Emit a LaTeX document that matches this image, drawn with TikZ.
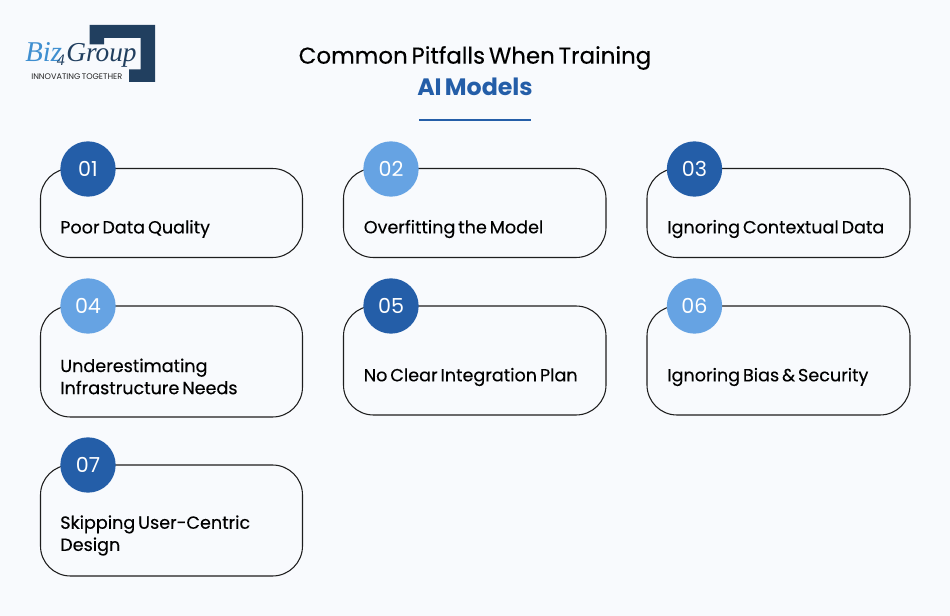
\documentclass[tikz,border=0pt]{standalone}
\usepackage{fontspec}
\setmainfont{Poppins}[WordSpace=0.62]
\newfontfamily\medfont{Poppins}[WordSpace=0.62,FakeBold=0.25]
\newfontfamily\logofont{Liberation Serif}
\definecolor{pagebg}{HTML}{F8FAFD}
\definecolor{darkblue}{HTML}{245EA8}
\definecolor{lightblue}{HTML}{66A3E3}
\definecolor{logonavy}{HTML}{213F5F}
\definecolor{logosky}{HTML}{3F8FD0}
\definecolor{inkline}{HTML}{1E1E1E}
\tikzset{
  card/.style={draw=inkline, line width=0.8pt, fill=pagebg, rounded corners=22.5pt, inner sep=0pt},
  badge/.style={circle, minimum size=41.5pt, inner sep=0pt, text=white, font=\fontsize{15.5}{15.5}\selectfont},
  cardtext/.style={anchor=west, align=left, text=black, inner sep=0pt, font=\medfont\fontsize{13.2}{16.6}\selectfont},
}
\begin{document}
\begin{tikzpicture}[x=0.75pt,y=-0.75pt]
  \path[use as bounding box, fill=pagebg] (0,0) rectangle (950,616);
  % logo
  \fill[logonavy] (89.5,25) -- (155,25) -- (155,82) -- (129,82) -- (129,69.5) -- (140.5,69.5)
    -- (140.5,38) -- (104,38) -- (104,44.5) -- (89.5,44.5) -- cycle;
  \node[anchor=base west, inner sep=0pt, text=logosky, font=\logofont\itshape\fontsize{21.5}{24}\selectfont] (biz) at (25,62) {Biz};
  \node[anchor=base west, inner sep=0pt, text=logonavy, font=\logofont\itshape\fontsize{12}{15}\selectfont] (four) at (56.5,66) {4};
  \node[anchor=base west, inner sep=0pt, text=logonavy, font=\logofont\itshape\fontsize{20.5}{24}\selectfont] (group) at (66,62) {Group};
  \node[anchor=base west, inner sep=0pt, text=black!85, font=\fontsize{6.1}{6}\selectfont] (tagline) at (31,79.5) {INNOVATING TOGETHER};
  % title
  \node[text=black, font=\medfont\fontsize{17.2}{18.3}\selectfont, inner sep=0pt] (title) at (475,58) {Common Pitfalls When Training};
  \node[text=darkblue, font=\bfseries\fontsize{17.8}{18.3}\selectfont, inner sep=0pt] (subtitle) at (475,86.5) {AI Models};
  \coordinate (ruleL) at (419,120);
  \coordinate (ruleR) at (531,120);
  \draw[darkblue, line width=1.1pt] (ruleL) -- (ruleR);
  % cards
  \draw[card] (40.5,168.5) rectangle (302.5,257.5);
  \draw[card] (343.5,168.5) rectangle (606,257.5);
  \draw[card] (647,168.5) rectangle (910,257.5);
  \draw[card] (40.5,306) rectangle (302.5,417);
  \draw[card] (343.5,306) rectangle (606,415);
  \draw[card] (647,306) rectangle (910,415);
  \draw[card] (40.5,465) rectangle (302.5,576);
  % badges
  \node[badge, fill=darkblue] (b1) at (88,169) {01};
  \node[badge, fill=lightblue] (b2) at (391,169) {02};
  \node[badge, fill=darkblue] (b3) at (694.5,169) {03};
  \node[badge, fill=lightblue] (b4) at (88,306) {04};
  \node[badge, fill=darkblue] (b5) at (391,306) {05};
  \node[badge, fill=lightblue] (b6) at (694.5,306) {06};
  \node[badge, fill=darkblue] (b7) at (88,465) {07};
  % labels
  \node[cardtext] (t1) at (60,229) {Poor Data Quality};
  \node[cardtext] (t2) at (363.5,229) {Overfitting the Model};
  \node[cardtext] (t3) at (667,229) {Ignoring Contextual Data};
  \node[cardtext] (t4) at (60,376.5) {Underestimating\\Infrastructure Needs};
  \node[cardtext] (t5) at (363.5,377) {No Clear Integration Plan};
  \node[cardtext] (t6) at (667,377) {Ignoring Bias \& Security};
  \node[cardtext] (t7) at (60,535.5) {Skipping User-Centric\\Design};
\end{tikzpicture}
\end{document}
